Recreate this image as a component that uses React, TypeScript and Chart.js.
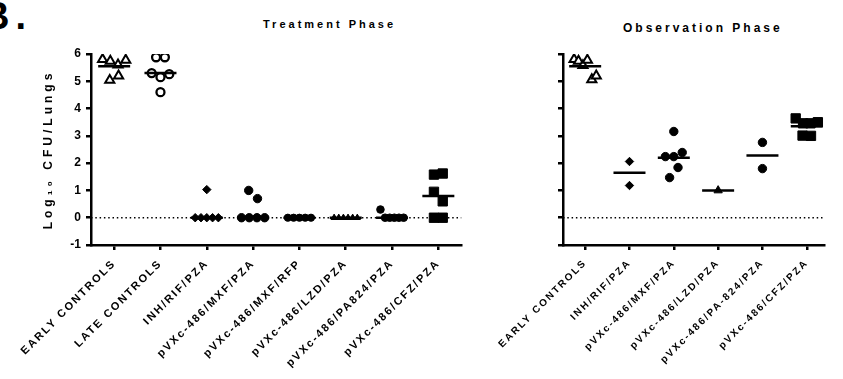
import React, { useEffect, useRef } from "react";
import { Chart, registerables } from "chart.js";

Chart.register(...registerables);

const FONT = "Arial, 'Liberation Sans', 'DejaVu Sans', sans-serif";

// ---------- categories ----------
const treatmentGroups = [
  "EARLY CONTROLS",
  "LATE CONTROLS",
  "INH/RIF/PZA",
  "pVXc-486/MXF/PZA",
  "pVXc-486/MXF/RFP",
  "pVXc-486/LZD/PZA",
  "pVXc-486/PA824/PZA",
  "pVXc-486/CFZ/PZA",
];
const observationGroups = [
  "EARLY CONTROLS",
  "INH/RIF/PZA",
  "pVXc-486/MXF/PZA",
  "pVXc-486/LZD/PZA",
  "pVXc-486/PA-824/PZA",
  "pVXc-486/CFZ/PZA",
];

// ---------- treatment phase values (log10 CFU / lungs) ----------
const tEarlyControls = [5.8, 5.74, 5.6, 5.78, 5.04, 5.2];
const tLateControls = [5.88, 5.88, 5.3, 5.15, 5.26, 4.6];
const tInhRifPza = [1.03, 0, 0, 0, 0, 0];
const tMxfPza = [1.0, 0.7, 0, 0, 0, 0];
const tMxfRfp = [0, 0, 0, 0, 0];
const tLzdPza = [0, 0, 0, 0, 0, 0];
const tPa824Pza = [0.3, 0, 0, 0, 0, 0];
const tCfzPza = [1.58, 1.62, 0.95, 0.6, 0, 0];
const treatmentCenters = [5.55, 5.3, 0, 0, 0, 0, 0, 0.8];

// ---------- observation phase values ----------
const oEarlyControls = [5.8, 5.74, 5.58, 5.78, 5.06, 5.2];
const oInhRifPza = [2.06, 1.18];
const oMxfPza = [3.16, 2.24, 2.24, 2.39, 1.47, 1.84];
const oLzdPza = [1.0];
const oPa824Pza = [2.76, 1.8];
const oCfzPza = [3.64, 3.46, 3.46, 3.5, 3.01, 3.0];
const observationCenters = [5.55, 1.65, 2.2, 1.0, 2.28, 3.35];

const yMin = -1;
const yMax = 6;

type Marker = { style: string; radius: number; fill: string; border: number };

const treatmentMarkers: Marker[] = [
  { style: "triangle", radius: 5.3, fill: "#fff", border: 2 },
  { style: "circle", radius: 4, fill: "#fff", border: 2.3 },
  { style: "rectRot", radius: 4.2, fill: "#000", border: 1 },
  { style: "circle", radius: 4.2, fill: "#000", border: 1 },
  { style: "circle", radius: 3.6, fill: "#000", border: 1 },
  { style: "triangle", radius: 3.6, fill: "#000", border: 1 },
  { style: "circle", radius: 3.8, fill: "#000", border: 1 },
  { style: "rect", radius: 6.6, fill: "#000", border: 1 },
];
const observationMarkers: Marker[] = [
  { style: "triangle", radius: 5.3, fill: "#fff", border: 2 },
  { style: "rectRot", radius: 4.2, fill: "#000", border: 1 },
  { style: "circle", radius: 4.2, fill: "#000", border: 1 },
  { style: "triangle", radius: 4.8, fill: "#000", border: 1 },
  { style: "circle", radius: 4.2, fill: "#000", border: 1 },
  { style: "rect", radius: 6.6, fill: "#000", border: 1 },
];

// scatter-dot layout: values close together sit side by side in a row
const ROW_GAP = 0.38;
const STEP = 0.19;
const SPAN = 0.5;
function placeGroup(values: number[], gi: number) {
  const idx = values.map((_, i) => i).sort((a, b) => values[b] - values[a]);
  const rows: number[][] = [];
  let cur: number[] = [];
  idx.forEach((i, k) => {
    if (k > 0 && values[idx[k - 1]] - values[i] >= ROW_GAP) {
      rows.push(cur);
      cur = [];
    }
    cur.push(i);
  });
  rows.push(cur);
  const xs: number[] = new Array(values.length).fill(gi);
  rows.forEach((row) => {
    row.sort((a, b) => a - b);
    const n = row.length;
    const step = n > 1 ? Math.min(STEP, SPAN / (n - 1)) : 0;
    row.forEach((i, k) => {
      xs[i] = gi + (k - (n - 1) / 2) * step;
    });
  });
  return values.map((v, i) => ({ x: xs[i], y: v }));
}

function makeSpacingPlugin(labelSpacing: string, titleSpacing: string) {
  return {
    id: "letterSpacing",
    afterLayout(chart: any) {
      const xs = chart.scales.x;
      const ys = chart.scales.y;
      if (xs && !xs.__spaced) {
        const orig = xs.drawLabels.bind(xs);
        xs.drawLabels = (area: any) => {
          const ctx = chart.ctx;
          ctx.save();
          ctx.letterSpacing = labelSpacing;
          orig(area);
          ctx.restore();
        };
        xs.__spaced = true;
      }
      if (ys && !ys.__spaced) {
        const orig = ys.drawTitle.bind(ys);
        ys.drawTitle = () => {
          const ctx = chart.ctx;
          ctx.save();
          ctx.letterSpacing = titleSpacing;
          orig();
          ctx.restore();
        };
        ys.__spaced = true;
      }
    },
  };
}

function makeChart(
  canvas: HTMLCanvasElement,
  groups: string[],
  values: number[][],
  centers: number[],
  markers: Marker[],
  xMax: number,
  axisWidth: number,
  padRight: number,
  showYLabels: boolean,
  labelSize: number,
  labelSpacing: string
) {
  const xMin = -0.5;
  const datasets: any[] = [];
  datasets.push({
    label: "center",
    data: centers.map((c, i) => ({ x: i, y: c })),
    pointStyle: "line",
    pointRadius: 16,
    borderWidth: 2.5,
    borderColor: "#000",
    backgroundColor: "#000",
    order: 0,
  });
  values.forEach((vals, gi) => {
    const m = markers[gi];
    datasets.push({
      label: groups[gi],
      data: placeGroup(vals, gi),
      pointStyle: m.style,
      pointRadius: m.radius,
      pointBorderWidth: m.border,
      borderColor: "#000",
      backgroundColor: m.fill,
      pointBackgroundColor: m.fill,
      pointBorderColor: "#000",
      order: 1,
    });
  });
  datasets.push({
    label: "zero",
    data: [
      { x: xMin, y: 0 },
      { x: xMax, y: 0 },
    ],
    showLine: true,
    pointRadius: 0,
    borderColor: "#000",
    borderWidth: 1.5,
    borderDash: [1.5, 2.8],
    order: 2,
  });

  const tickGrid = {
    display: true,
    drawOnChartArea: false,
    drawTicks: true,
    tickLength: 5,
    color: "#000",
    lineWidth: 2.5,
  };
  const border = { display: true, color: "#000", width: 2.5 };

  return new Chart(canvas, {
    type: "scatter",
    data: { datasets },
    plugins: [makeSpacingPlugin(labelSpacing, "4px")],
    options: {
      responsive: false,
      animation: false,
      events: [],
      layout: { padding: { top: 54, right: padRight, left: 0, bottom: 0 } },
      plugins: {
        legend: { display: false },
        tooltip: { enabled: false },
        title: { display: false },
      },
      scales: {
        x: {
          type: "linear",
          min: xMin,
          max: xMax,
          afterBuildTicks: (axis: any) => {
            axis.ticks = groups.map((_, i) => ({ value: i }));
          },
          afterFit: (s: any) => {
            s.height = 134;
          },
          ticks: {
            autoSkip: false,
            minRotation: 45,
            maxRotation: 45,
            padding: 7,
            color: "#000",
            font: { family: FONT, size: labelSize, weight: "bold" },
            callback: (v: any) => groups[Math.round(Number(v))] ?? "",
          },
          grid: tickGrid,
          border,
        },
        y: {
          type: "linear",
          min: yMin,
          max: yMax,
          afterFit: (s: any) => {
            s.width = axisWidth;
          },
          ticks: {
            stepSize: 1,
            display: showYLabels,
            padding: 5,
            color: "#000",
            font: { family: FONT, size: 12, weight: "bold" },
          },
          grid: tickGrid,
          border,
          title: {
            display: showYLabels,
            text: "Log\u2081\u2080 CFU/Lungs",
            color: "#000",
            font: { family: FONT, size: 12, weight: "bold" },
            padding: { top: 41, bottom: 0 },
          },
        },
      },
    } as any,
  });
}

export default function App() {
  const leftRef = useRef<HTMLCanvasElement>(null);
  const rightRef = useRef<HTMLCanvasElement>(null);

  useEffect(() => {
    Chart.defaults.font.family = FONT;
    const left = makeChart(
      leftRef.current!,
      treatmentGroups,
      [tEarlyControls, tLateControls, tInhRifPza, tMxfPza, tMxfRfp, tLzdPza, tPa824Pza, tCfzPza],
      treatmentCenters,
      treatmentMarkers,
      7.5,
      91,
      8,
      true,
      11,
      "2px"
    );
    const right = makeChart(
      rightRef.current!,
      observationGroups,
      [oEarlyControls, oInhRifPza, oMxfPza, oLzdPza, oPa824Pza, oCfzPza],
      observationCenters,
      observationMarkers,
      5.4,
      93,
      0,
      false,
      10,
      "2px"
    );
    return () => {
      left.destroy();
      right.destroy();
    };
  }, []);

  return (
    <div
      style={{
        position: "fixed",
        left: 0,
        top: 0,
        width: 843,
        height: 379,
        overflow: "hidden",
        background: "#fff",
        fontFamily: FONT,
        color: "#000",
      }}
    >
      <span
        style={{
          position: "absolute",
          left: -18,
          top: -3,
          fontSize: 38,
          fontWeight: "bold",
          letterSpacing: "6px",
          lineHeight: 1,
          whiteSpace: "nowrap",
        }}
      >
        B.
      </span>
      <div
        style={{
          position: "absolute",
          left: 263,
          top: 19,
          fontSize: 11,
          fontWeight: "bold",
          letterSpacing: "3px",
          lineHeight: 1,
          whiteSpace: "nowrap",
        }}
      >
        Treatment Phase
      </div>
      <div
        style={{
          position: "absolute",
          left: 623,
          top: 22,
          fontSize: 12,
          fontWeight: "bold",
          letterSpacing: "3px",
          lineHeight: 1,
          whiteSpace: "nowrap",
        }}
      >
        Observation Phase
      </div>
      <canvas
        ref={leftRef}
        width={480}
        height={379}
        style={{ position: "absolute", left: 0, top: 0, width: 480, height: 379 }}
      />
      <canvas
        ref={rightRef}
        width={373}
        height={379}
        style={{ position: "absolute", left: 470, top: 0, width: 373, height: 379 }}
      />
    </div>
  );
}
